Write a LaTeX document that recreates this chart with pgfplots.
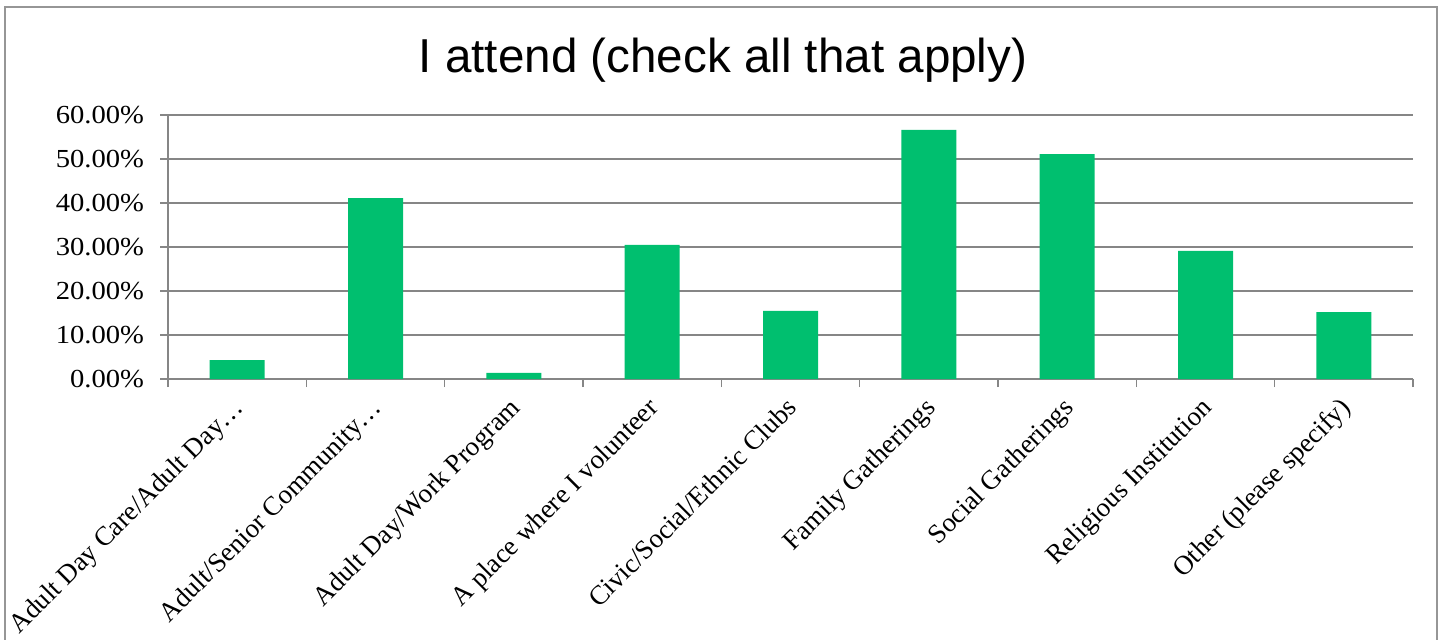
\documentclass[border=0pt]{standalone}
\usepackage{pgfplots}
\pgfplotsset{compat=1.18}
\usepackage{fontspec}
\setmainfont{Liberation Serif}
\newfontfamily\tickfont{Liberation Serif}[FakeStretch=1.1]
\newfontfamily\titlefont{Liberation Sans}
\definecolor{bargreen}{RGB}{0,191,111}
\definecolor{gridgray}{RGB}{134,134,134}
\definecolor{framegray}{RGB}{150,150,150}

\begin{document}
\begin{tikzpicture}
\useasboundingbox (0pt,0pt) rectangle (722pt,-320pt);
% outer chart frame (bottom edge falls below the picture)
\draw[framegray, line width=1pt] (2.5pt,-330pt) -- (2.5pt,-3.5pt) -- (718.5pt,-3.5pt) -- (718.5pt,-330pt);
\node[anchor=base, font=\titlefont\fontsize{23.8}{28}\selectfont] at (361.5pt,-36.5pt) {I attend (check all that apply)};
\begin{axis}[
    at={(84pt,-189.5pt)}, anchor=south west,
    scale only axis, width=622.5pt, height=132pt,
    ybar, bar width=27.5pt,
    xmin=0, xmax=9, ymin=0, ymax=60,
    axis lines=left,
    axis line style={-, gridgray, line width=0.75pt},
    ymajorgrids,
    major grid style={gridgray, line width=0.75pt},
    tick align=outside,
    major tick length=4pt, minor tick length=4pt,
    tick style={gridgray, line width=0.75pt},
    major x tick style={draw=none},
    ytick={0,10,20,30,40,50,60},
    yticklabels={0.00\%,10.00\%,20.00\%,30.00\%,40.00\%,50.00\%,60.00\%},
    xtick={0.5,1.5,2.5,3.5,4.5,5.5,6.5,7.5,8.5},
    minor xtick={0,1,2,3,4,5,6,7,8,9},
    xticklabels={Adult Day Care/Adult Day…, Adult/Senior Community…, Adult Day/Work Program, A place where I volunteer, Civic/Social/Ethnic Clubs, Family Gatherings, Social Gatherings, Religious Institution, Other (please specify)},
    yticklabel style={font=\tickfont\fontsize{13}{15}\selectfont, text=black, xshift=-4.5pt},
    xticklabel style={rotate=45, anchor=north east, font=\fontsize{13.5}{16}\selectfont, text=black, inner sep=1pt, xshift=-4pt},
  ]
  \addplot[fill=bargreen, draw=none] coordinates {
    (0.5,4.3) (1.5,41.1) (2.5,1.4) (3.5,30.5) (4.5,15.5)
    (5.5,56.6) (6.5,51.1) (7.5,29.1) (8.5,15.2)
  };
\end{axis}
\end{tikzpicture}
\end{document}
